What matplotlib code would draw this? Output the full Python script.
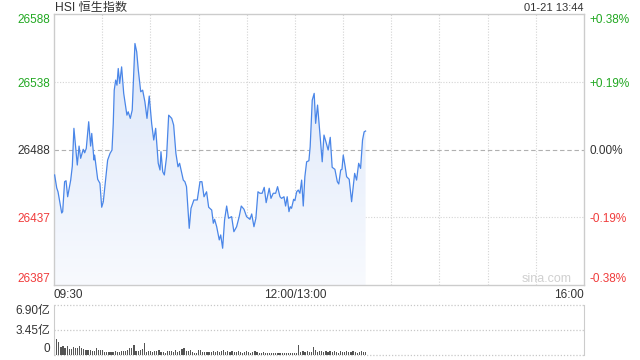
import numpy as np
import matplotlib
matplotlib.use("Agg")
import matplotlib.pyplot as plt
from matplotlib.colors import LinearSegmentedColormap
from matplotlib.patches import PathPatch

plt.rcParams['font.family'] = ['Liberation Sans', 'Noto Sans CJK SC']

# minutes since 09:30 (trading time, lunch break removed) and index level
minutes = [0.4, 1.7, 2.5, 4.8, 5.4, 6.6, 7.5, 8.5, 10.4, 11.4, 12.4, 14.5, 15.6, 16.6,
           18.2, 19.1, 20.1, 21.6, 22.8, 23.5, 24.9, 25.3, 27.2, 28.6, 29.7, 30.7,
           31.7, 33.4, 34.9, 36.1, 36.9, 37.5, 38.4, 39.2, 40.0, 40.9, 42.1, 43.4,
           45.4, 46.2, 47.5, 48.7, 50.4, 51.5, 52.5, 54.0, 55.2, 56.6, 57.9, 59.3,
           60.8, 62.1, 63.3, 64.9, 66.0, 66.6, 67.7, 68.7, 70.1, 71.4, 73.3, 74.5,
           75.9, 77.2, 78.2, 80.5, 81.5, 82.5, 84.2, 85.3, 87.1, 89.2, 90.9, 92.1,
           93.4, 95.0, 96.3, 98.2, 99.2, 100.0, 101.3, 102.9, 103.8, 105.0, 106.2,
           107.5, 108.7, 110.6, 112.0, 113.7, 115.3, 116.6, 118.3, 119.9, 122.0,
           123.1, 124.5, 125.7, 127.0, 128.2, 129.6, 130.9, 132.1, 134.0, 135.1,
           136.5, 138.0, 139.2, 140.7, 141.7, 143.2, 144.2, 145.2, 146.3, 147.1,
           147.9, 149.2, 150.0, 151.1, 152.1, 153.1, 154.2, 155.2, 156.2, 157.3,
           158.7, 159.5, 160.8, 162.0, 162.9, 164.1, 165.6, 167.0, 168.1, 169.3,
           170.7, 172.0, 173.2, 174.9, 176.4, 177.3, 178.5, 179.3, 180.1, 181.3,
           182.2, 183.8, 185.3, 186.3, 187.2, 188.4, 189.7, 190.9, 192.1, 193.1, 194.0]
prices = [26468.7, 26459.0, 26456.2, 26440.4, 26441.4, 26463.7, 26464.4, 26452.5,
          26464.9, 26475.3, 26503.4, 26476.1, 26490.2, 26481.1, 26487.8, 26485.2,
          26488.5, 26508.3, 26490.2, 26499.6, 26479.8, 26483.5, 26465.5, 26462.5,
          26444.7, 26448.8, 26460.0, 26479.8, 26484.8, 26487.2, 26507.1, 26531.8,
          26539.3, 26535.5, 26547.9, 26536.8, 26549.1, 26529.4, 26513.2, 26515.7,
          26510.8, 26517.0, 26566.5, 26560.3, 26546.7, 26530.6, 26531.8, 26523.1,
          26510.8, 26527.4, 26507.1, 26494.7, 26503.4, 26477.4, 26472.4, 26486.0,
          26471.1, 26468.7, 26482.3, 26513.2, 26510.8, 26505.8, 26484.8, 26474.8,
          26477.4, 26464.9, 26463.7, 26460.0, 26429.0, 26443.9, 26450.1, 26450.1,
          26463.7, 26463.7, 26452.5, 26456.2, 26444.7, 26442.6, 26432.8, 26435.7,
          26430.2, 26420.4, 26424.1, 26414.2, 26435.2, 26445.6, 26436.5, 26437.7,
          26426.5, 26430.2, 26437.7, 26445.6, 26443.2, 26437.7, 26435.7, 26439.7,
          26430.2, 26436.5, 26456.2, 26455.1, 26455.1, 26459.5, 26448.1, 26458.8,
          26451.3, 26455.1, 26455.1, 26460.0, 26452.5, 26451.3, 26452.5, 26445.6,
          26452.5, 26441.4, 26445.1, 26443.9, 26450.6, 26449.6, 26456.2, 26457.5,
          26455.1, 26464.9, 26445.6, 26467.4, 26478.5, 26479.3, 26489.7, 26524.4,
          26529.4, 26507.1, 26520.7, 26498.4, 26478.5, 26498.4, 26493.4, 26487.2,
          26496.7, 26474.4, 26472.9, 26463.7, 26462.0, 26472.4, 26472.9, 26483.5,
          26474.8, 26467.4, 26465.5, 26448.8, 26460.0, 26469.9, 26464.9, 26477.4,
          26473.6, 26494.7, 26500.8, 26501.4]

# volume, 亿
volume = [6.90, 2.16, 1.84, 1.15, 1.24, 0.92, 1.24, 0.78, 0.78, 1.06,
          0.92, 0.92, 1.24, 0.92, 0.78, 0.69, 0.69, 0.69, 0.55, 0.55,
          0.92, 0.69, 0.69, 0.69, 0.46, 0.46, 0.46, 0.46, 0.46, 0.60,
          0.46, 0.46, 0.55, 0.55, 0.55, 0.69, 0.92, 0.92, 1.38, 0.55,
          0.55, 0.69, 0.78, 1.61, 0.46, 0.55, 0.60, 0.46, 0.55, 0.60,
          0.69, 0.46, 0.46, 0.32, 0.55, 0.55, 0.60, 0.46, 0.69, 0.46,
          0.60, 0.78, 0.92, 0.60, 0.60, 0.69, 0.46, 0.32, 0.32, 0.69,
          0.69, 0.46, 0.46, 0.46, 0.46,
          0.46, 0.55, 0.46, 0.60, 0.46, 0.55, 0.69, 0.46, 0.55, 0.46,
          0.60, 0.46, 0.46, 0.55, 0.46, 0.32, 0.46, 0.55, 0.46, 0.32,
          0.46, 0.55, 0.46, 0.32, 0.32, 0.46, 0.32, 0.23, 0.32, 0.23,
          0.32, 0.23, 0.23, 0.32, 0.23, 0.32, 0.23, 0.32, 0.23, 0.23,
          0.32, 0.23, 1.40, 0.46, 0.55, 0.46, 0.60, 0.46, 0.46, 1.15,
          0.69, 0.46, 0.55, 0.60, 0.46, 0.55, 0.46, 0.60, 0.46, 0.55,
          0.46, 0.32, 0.55, 0.46, 0.46, 0.60, 0.46, 0.46, 0.55, 0.46,
          0.32, 0.46, 0.55, 0.46, 0.46]

prev_close = 26487.5
y_lo, y_hi = 26386.85, 26588.15
left_labels = ['26387', '26437', '26488', '26538', '26588']
right_labels = ['-0.38%', '-0.19%', '0.00%', '+0.19%', '+0.38%']
label_colors = ['#f03c3c', '#f03c3c', '#333333', '#22a822', '#22a822']
x_ticks = [0, 150, 330]
x_labels = ['09:30', '12:00/13:00', '16:00']
vol_ticks = [0, 3.45, 6.90]
vol_labels = ['0', '3.45亿', '6.90亿']

fig = plt.figure(figsize=(6.4, 3.6), dpi=100)
ax = fig.add_axes([54 / 640, 1 - 285 / 360, 530 / 640, (285 - 14.4) / 360])
vax = fig.add_axes([54 / 640, 1 - 355 / 360, 530 / 640, (355 - 304.7) / 360])

# gradient fill under the line
fill = ax.fill_between(minutes, prices, y_lo, color='none', lw=0)
cm = LinearSegmentedColormap.from_list('g', ['#f8fafe', '#d9e5f9'])
grad = np.linspace(0, 1, 256).reshape(-1, 1)
img = ax.imshow(grad, extent=[minutes[0], minutes[-1], y_lo, y_hi], aspect='auto',
                cmap=cm, origin='lower', zorder=1)
clip = PathPatch(fill.get_paths()[0], transform=ax.transData, fc='none', ec='none')
ax.add_patch(clip)
img.set_clip_path(clip)
ax.plot(minutes, prices, color='#4a86e8', lw=0.9, zorder=3)

ax.set_xlim(0, 330)
ax.set_ylim(y_lo, y_hi)
yt = np.linspace(y_lo, y_hi, 5)
for x in range(30, 330, 30):
    ax.axvline(x, color='#d4d4d4', ls=(0, (1, 1.5)), lw=0.8, zorder=0)
for y in yt[1:-1]:
    if abs(y - prev_close) < 1:
        ax.axhline(y, color='#b0b0b0', ls=(0, (4, 2.5)), lw=0.8, zorder=0)
    else:
        ax.axhline(y, color='#d4d4d4', ls=(0, (1, 1.5)), lw=0.8, zorder=0)
for s in ax.spines.values():
    s.set_color('#cccccc')
    s.set_linewidth(1)

ax.set_yticks(yt)
ax.set_yticklabels(left_labels, fontsize=8.5)
ax.tick_params(length=0, pad=2.5)
for lab, c in zip(ax.get_yticklabels(), label_colors):
    lab.set_color(c)
ax.get_yticklabels()[0].set_va('bottom')
ax.get_yticklabels()[-1].set_va('top')

ax.set_xticks(x_ticks)
ax.set_xticklabels(x_labels, fontsize=8.5, color='#333333')
for lab, ha in zip(ax.get_xticklabels(), ['left', 'center', 'right']):
    lab.set_ha(ha)
ax.tick_params(axis='x', pad=3)

ax2 = ax.twinx()
ax2.set_ylim(y_lo, y_hi)
ax2.set_yticks(yt)
ax2.set_yticklabels(right_labels, fontsize=8.5)
ax2.tick_params(length=0, pad=4)
for lab, c in zip(ax2.get_yticklabels(), label_colors):
    lab.set_color(c)
ax2.get_yticklabels()[0].set_va('bottom')
ax2.get_yticklabels()[-1].set_va('top')
for s in ax2.spines.values():
    s.set_visible(False)

# volume panel
vol_x = np.linspace(minutes[0], minutes[-1], len(volume))
vax.bar(vol_x, volume, width=0.75, color='#555555', lw=0, zorder=2)
vax.set_xlim(0, 330)
vax.set_ylim(0, 6.9)
for v in vol_ticks:
    vax.axhline(v, color='#c8c8c8', ls=(0, (1, 1.5)), lw=0.9, zorder=1, clip_on=False)
vax.spines['top'].set_visible(False)
vax.spines['bottom'].set_visible(False)
vax.spines['left'].set_color('#cccccc')
vax.spines['right'].set_color('#cccccc')
vax.set_xticks([])
vax.set_yticks(vol_ticks)
vax.set_yticklabels(vol_labels, fontsize=8.5, color='#333333')
vax.tick_params(length=0, pad=2.5)
vax.get_yticklabels()[0].set_va('bottom')
vax.get_yticklabels()[-1].set_va('top')

fig.text(55 / 640, 1 - 8 / 360, 'HSI 恒生指数', fontsize=8.7, color='#333333', va='center')
fig.text(584 / 640, 1 - 8 / 360, '01-21 13:44', fontsize=8, color='#333333',
         va='center', ha='right')
fig.text(572 / 640, 1 - 279 / 360, 'sina.com', fontsize=9, color='#d0d0d0',
         va='center', ha='right')

fig.savefig('out.png', dpi=100)
